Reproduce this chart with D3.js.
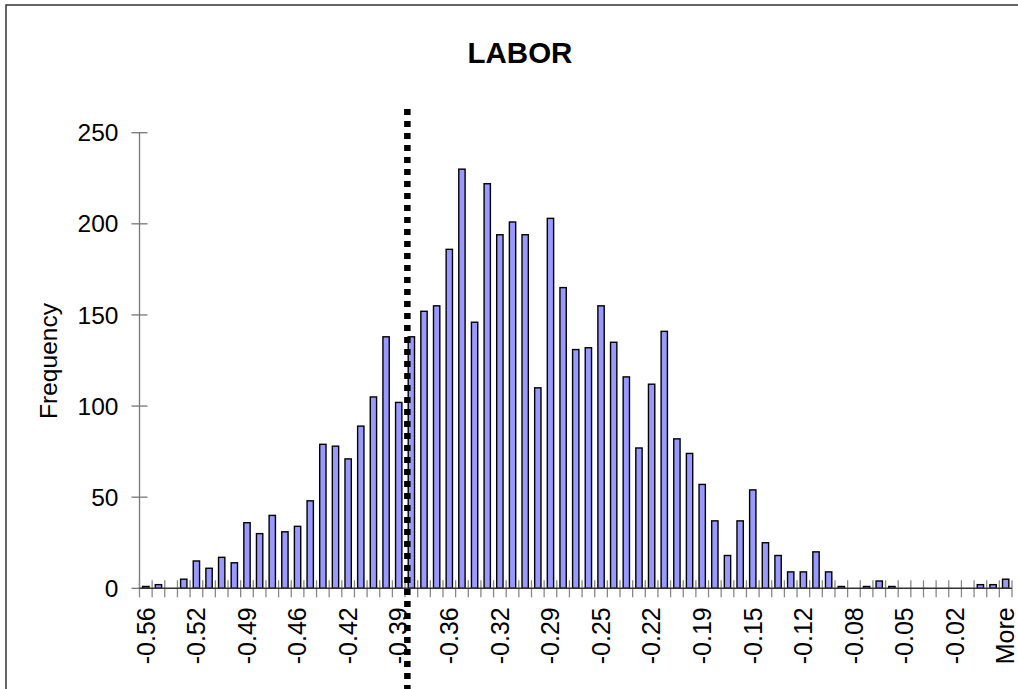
<!DOCTYPE html>
<html>
<head>
<meta charset="utf-8">
<script src="https://cdn.jsdelivr.net/npm/d3@7"></script>
<style>
  html, body { margin: 0; padding: 0; background: #fff; }
  svg { display: block; font-family: "Liberation Sans", Arial, sans-serif; }
</style>
</head>
<body>
<svg id="chart" width="1018" height="689"></svg>
<script>
// Bin upper-edge labels (last bin is "More")
const binLabels = [
  -0.5580, -0.5496, -0.5411, -0.5327, -0.5242, -0.5158, -0.5073, -0.4989,
  -0.4904, -0.4820, -0.4735, -0.4651, -0.4566, -0.4482, -0.4397, -0.4313,
  -0.4228, -0.4144, -0.4059, -0.3975, -0.3890, -0.3806, -0.3721, -0.3637,
  -0.3552, -0.3468, -0.3383, -0.3299, -0.3214, -0.3130, -0.3045, -0.2961,
  -0.2876, -0.2792, -0.2707, -0.2623, -0.2538, -0.2454, -0.2369, -0.2285,
  -0.2200, -0.2116, -0.2031, -0.1947, -0.1862, -0.1778, -0.1693, -0.1609,
  -0.1524, -0.1440, -0.1355, -0.1271, -0.1186, -0.1102, -0.1017, -0.0933,
  -0.0848, -0.0764, -0.0679, -0.0595, -0.0510, -0.0426, -0.0341, -0.0257,
  -0.0172, -0.0088, -0.0003, 0.0082, "More"
];
// Frequency per bin
const frequency = [
  1, 2, 0, 5, 15, 11, 17, 14,
  36, 30, 40, 31, 34, 48, 79, 78,
  71, 89, 105, 138, 102, 138, 152, 155,
  186, 230, 146, 222, 194, 201, 194, 110,
  203, 165, 131, 132, 155, 135, 116, 77,
  112, 141, 82, 74, 57, 37, 18, 37,
  54, 25, 18, 9, 9, 20, 9, 1,
  0, 1, 4, 1, 0, 0, 0, 0,
  0, 0, 2, 2, 5
];
const labelEvery = 4;
const yTicks = [0, 50, 100, 150, 200, 250];
const markerValue = -0.3832;
const chartTitle = "LABOR";
const yTitle = "Frequency";

(function () {
const svg = d3.select("#chart");
const pLeft = 139.5, pRight = 1012, pTop = 132.7, pBottom = 588.3;

// frame
svg.append("rect").attr("x", 6).attr("y", 5).attr("width", 1200).attr("height", 900)
  .attr("fill", "none").attr("stroke", "#333").attr("stroke-width", 1.5);

const idx = d3.range(frequency.length);
const x = d3.scaleBand().domain(idx).range([pLeft, pRight]).paddingInner(0.5).paddingOuter(0.25);
const y = d3.scaleLinear().domain([0, 250]).range([pBottom, pTop]);
const step = x.step();
const x0 = x.range()[0];

// y axis
svg.append("line").attr("x1", pLeft).attr("x2", pLeft).attr("y1", y(250)).attr("y2", y(0))
  .attr("stroke", "#777").attr("stroke-width", 1.3);
svg.selectAll(".ytick").data(yTicks).join("line")
  .attr("x1", pLeft - 8).attr("x2", pLeft + 8)
  .attr("y1", d => y(d)).attr("y2", d => y(d))
  .attr("stroke", "#777").attr("stroke-width", 1.3);
svg.selectAll(".ylab").data(yTicks).join("text")
  .attr("x", pLeft - 21).attr("y", d => y(d)).attr("dy", "0.35em")
  .attr("text-anchor", "end").attr("font-size", 24.5).attr("fill", "#000")
  .text(d => d);

// bars
svg.selectAll(".bar").data(idx).join("rect")
  .attr("x", i => x(i)).attr("width", x.bandwidth())
  .attr("y", i => y(frequency[i])).attr("height", i => y(0) - y(frequency[i]))
  .attr("fill", "#9999ff").attr("stroke", "#000").attr("stroke-width", 1.4);

// x axis
const boundaries = d3.range(frequency.length + 1);
svg.selectAll(".xtick").data(boundaries).join("line")
  .attr("x1", b => x0 + b * step).attr("x2", b => x0 + b * step)
  .attr("y1", pBottom - 8).attr("y2", pBottom + 9)
  .attr("stroke", "#888").attr("stroke-width", 1.3);
svg.append("line").attr("x1", pLeft).attr("x2", pRight).attr("y1", pBottom).attr("y2", pBottom)
  .attr("stroke", "#333").attr("stroke-width", 1.4);

const fmt = v => typeof v === "number" ? v.toFixed(2) : v;
svg.selectAll(".xlab").data(idx.filter(i => i % labelEvery === 0)).join("text")
  .attr("transform", i => `translate(${x(i) + x.bandwidth() / 2},${pBottom + 19}) rotate(-90)`)
  .attr("dy", "0.35em").attr("text-anchor", "end")
  .attr("font-size", 25).attr("fill", "#000")
  .text(i => fmt(binLabels[i]));

// titles
svg.append("text").attr("x", 520).attr("y", 63).attr("text-anchor", "middle")
  .attr("font-size", 29.5).attr("font-weight", "bold").text(chartTitle);
svg.append("text").attr("transform", `translate(57,361) rotate(-90)`)
  .attr("text-anchor", "middle").attr("font-size", 24.5).text(yTitle);

// marker dotted line
const numericIdx = idx.filter(i => typeof binLabels[i] === "number");
const lastNum = numericIdx[numericIdx.length - 1];
const xv = d3.scaleLinear()
  .domain([binLabels[0], binLabels[lastNum]])
  .range([x(0) + x.bandwidth() / 2, x(lastNum) + x.bandwidth() / 2]);
svg.append("line").attr("x1", xv(markerValue)).attr("x2", xv(markerValue))
  .attr("y1", 109).attr("y2", 689)
  .attr("stroke", "#000").attr("stroke-width", 6.5).attr("stroke-dasharray", "6 6");
})();
</script>
</body>
</html>
